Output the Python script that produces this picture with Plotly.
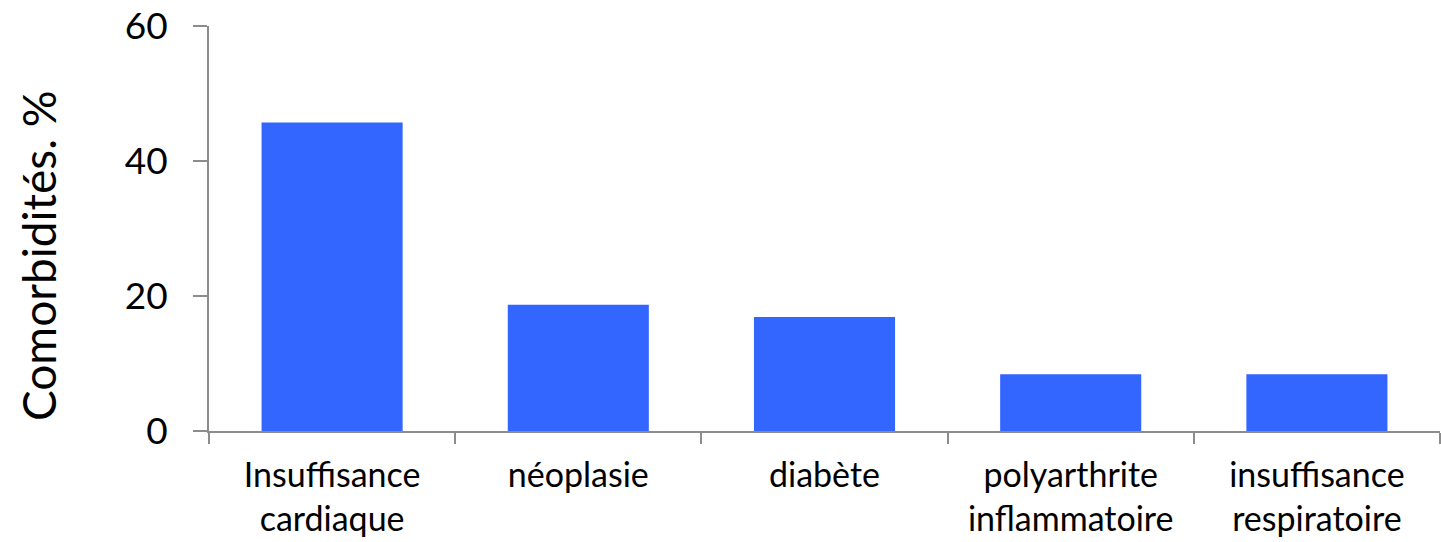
import plotly.graph_objects as go

categories = ["Insuffisance<br>cardiaque", "néoplasie", "diabète", "polyarthrite<br>inflammatoire", "insuffisance<br>respiratoire"]
values = [45.7, 18.7, 16.9, 8.4, 8.4]
y_ticks = [0, 20, 40, 60]
y_title = "Comorbidités. %"

FONT = "Lato, Carlito, Calibri, sans-serif"

fig = go.Figure(go.Bar(
    x=categories, y=values,
    marker=dict(color="#3366FF", line=dict(width=0)),
    width=0.573,
))

fig.update_layout(
    width=1441, height=542,
    margin=dict(l=209, r=1, t=26, b=111),
    plot_bgcolor="white", paper_bgcolor="white",
    showlegend=False,
    font=dict(family=FONT, color="black"),
    annotations=[dict(
        text=y_title, textangle=-90, xref="paper", yref="paper",
        x=0, xanchor="center", xshift=-171, y=0.432, yanchor="middle",
        showarrow=False, font=dict(size=46, family=FONT, color="black"),
    )],
)
fig.update_xaxes(
    automargin=False,
    showline=True, linecolor="#8c8c8c", linewidth=2,
    ticks="outside", tickson="boundaries", ticklen=11, tickcolor="#8c8c8c", tickwidth=2,
    tickfont=dict(size=34, family=FONT, color="black"),
    ticklabelstandoff=13,
    showgrid=False, range=[-0.5, 4.5],
)
fig.update_yaxes(
    automargin=False,
    range=[0, 60], tickvals=y_ticks,
    showline=True, linecolor="#8c8c8c", linewidth=2,
    ticks="outside", ticklen=14, tickcolor="#8c8c8c", tickwidth=2,
    tickfont=dict(size=37, family=FONT, color="black"),
    ticklabelstandoff=18,
    showgrid=False, zeroline=False,
)

fig.write_html("out.html", config={"responsive": False, "displayModeBar": False},
               post_script="document.body.style.margin='0';document.body.style.overflow='hidden';")
